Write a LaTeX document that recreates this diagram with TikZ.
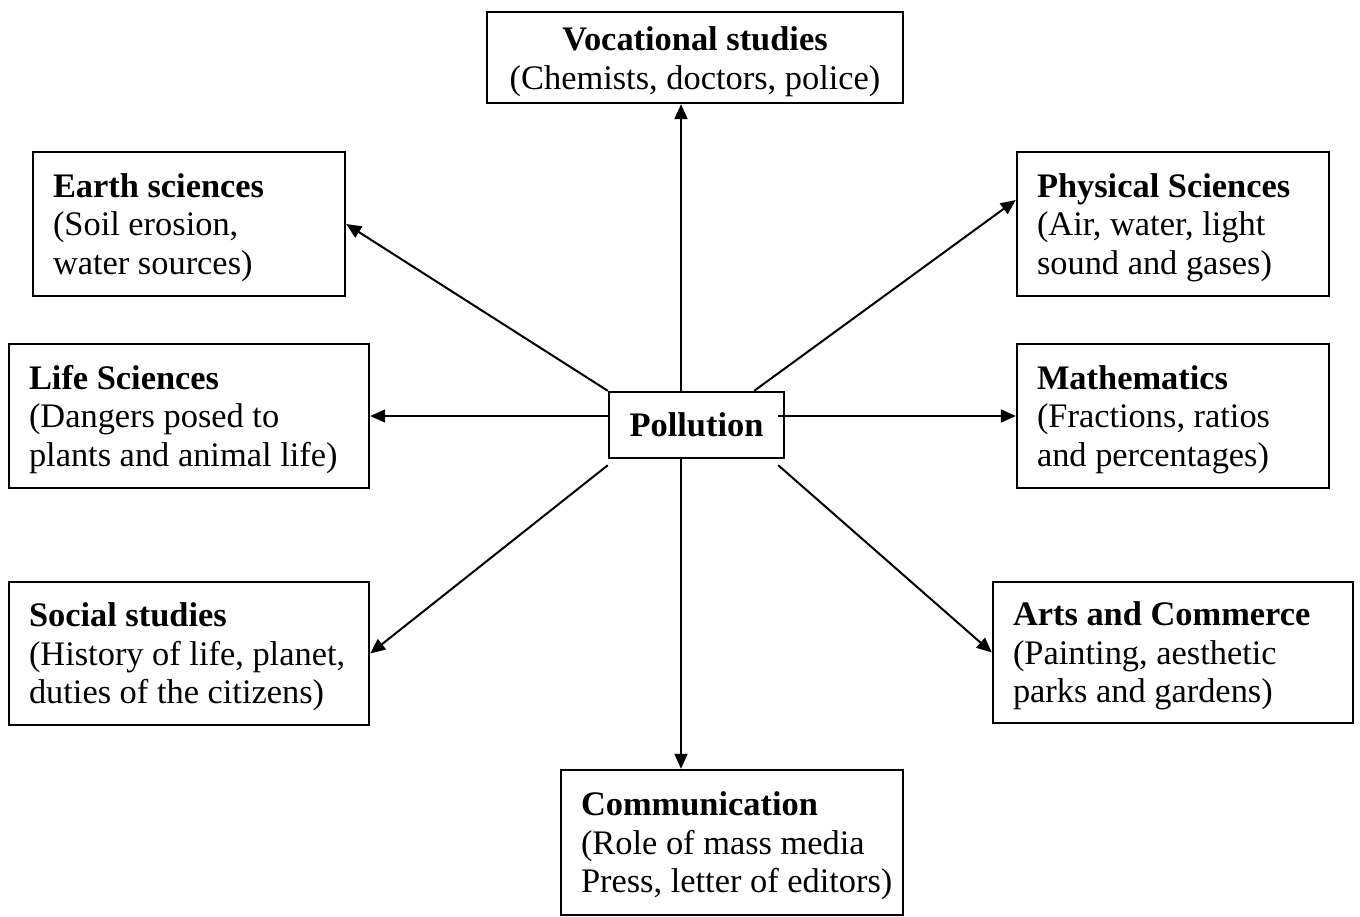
\documentclass[tikz,border=0pt]{standalone}
\usepackage{fontspec}
\setmainfont{Liberation Serif}
\usetikzlibrary{arrows.meta}
% left-aligned block of lines, indented 10pt inside a box of width #1
\newcommand{\subjtext}[2]{\makebox[#1][l]{\hspace{10pt}\raisebox{-2pt}[\height][\depth]{\begin{tabular}{@{}l@{}}#2\end{tabular}}}}
\begin{document}
\begin{tikzpicture}[x=1pt,y=1pt,
  box/.style={draw, line width=1.2pt, inner xsep=0pt, inner ysep=0pt,
    align=center, font=\fontsize{17.2}{19.3}\selectfont},
  arr/.style={line width=1pt, -{Triangle[length=7.5pt,width=6.5pt]}},
]
\useasboundingbox (0,0) rectangle (680,-458);

% central topic
\node[box, minimum width=87.5pt, minimum height=33pt] (poll)
  at (348.25,-212.5) {\textbf{Pollution}};

% subject boxes
\node[box, minimum width=208pt, minimum height=45.5pt] (voc)
  at (347.5,-28.75) {\raisebox{-2.5pt}[\height][\depth]{\begin{tabular}{@{}c@{}}\textbf{Vocational studies}\\(Chemists, doctors, police)\end{tabular}}};
\node[box, minimum height=72pt] (earth) at (94.5,-112)
  {\subjtext{156pt}{\textbf{Earth sciences}\\(Soil erosion,\\water sources)}};
\node[box, minimum height=72pt] (phys) at (586.5,-112)
  {\subjtext{156pt}{\textbf{Physical Sciences}\\(Air, water, light\\sound and gases)}};
\node[box, minimum height=72pt] (life) at (94.5,-208)
  {\subjtext{180pt}{\textbf{Life Sciences}\\(Dangers posed to\\plants and animal life)}};
\node[box, minimum height=72pt] (math) at (586.5,-208)
  {\subjtext{156pt}{\textbf{Mathematics}\\(Fractions, ratios\\and percentages)}};
\node[box, minimum height=71.5pt] (social) at (94.5,-326.75)
  {\subjtext{180pt}{\textbf{Social studies}\\(History of life, planet,\\duties of the citizens)}};
\node[box, minimum height=70.5pt] (arts) at (586.5,-326.25)
  {\subjtext{180pt}{\textbf{Arts and Commerce}\\(Painting, aesthetic\\parks and gardens)}};
\node[box, minimum height=72.5pt] (comm) at (366,-421.25)
  {\subjtext{171pt}{\textbf{Communication}\\(Role of mass media\\Press, letter of editors)}};

% connectors
\coordinate (vx) at ([xshift=-7.75pt]poll.north);
\coordinate (cx) at ([xshift=-7.75pt]poll.south);
\coordinate (mx) at ([xshift=-3.5pt]poll.east);
\draw[arr] (vx) -- (vx |- voc.south);
\draw[arr] (cx) -- (cx |- comm.north);
\draw[arr] (poll.north west) -- (earth.east);
\draw[arr] ([xshift=-15.5pt]poll.north east) -- ([yshift=12pt]phys.west);
\draw[arr] (poll.west |- life.east) -- (life.east);
\draw[arr] (mx |- math.west) -- (math.west);
\draw[arr] ([yshift=-3pt]poll.south west) -- (social.east);
\draw[arr] ([xshift=-3.5pt,yshift=-3pt]poll.south east) -- (arts.west);
\end{tikzpicture}
\end{document}
